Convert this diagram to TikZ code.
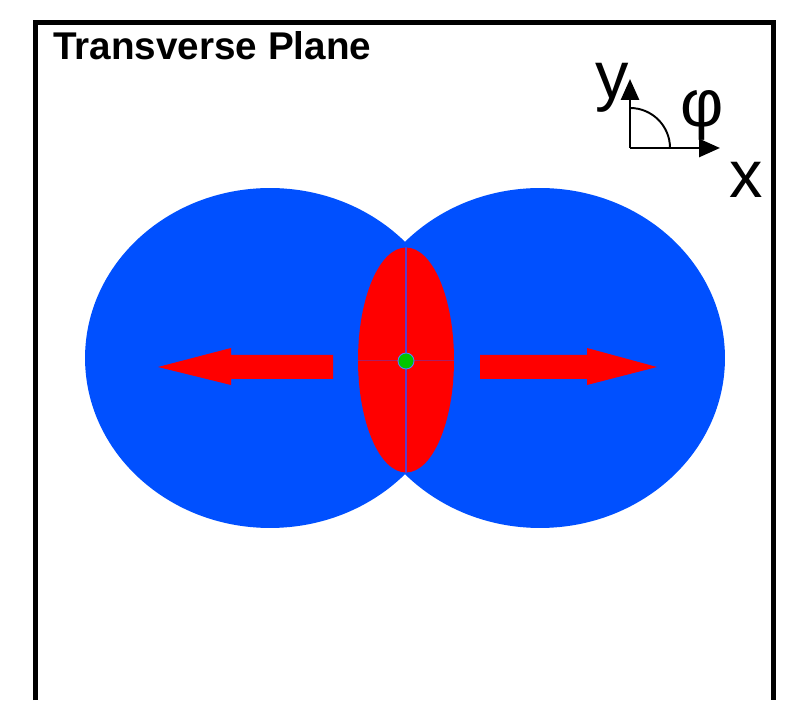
\documentclass[tikz,border=0pt]{standalone}
\usepackage{fontspec}
\setmainfont{Liberation Sans}
\usepackage{tikz}
\usepackage{xcolor}
\usetikzlibrary{arrows.meta,positioning,shapes.geometric}
\definecolor{PlaneBlue}{HTML}{0050FF}
\definecolor{PlaneRed}{HTML}{FF0000}
\definecolor{PlaneGreen}{HTML}{00C400}
\definecolor{PlaneLine}{HTML}{5A3CC8}
\tikzset{
    % Outer frame
    framebox/.style={
        draw=black,
        line width=0.1cm
    },
    % Transverse profile (blue blobs)
    blobnode/.style={
        ellipse,
        fill=PlaneBlue,
        inner sep=0pt,
        minimum width=7.4cm,
        minimum height=6.8cm
    },
    % Overlap region
    overlapnode/.style={
        ellipse,
        fill=PlaneRed,
        inner sep=0pt,
        minimum width=1.92cm,
        minimum height=4.5cm
    },
    % Centre dot
    dotnode/.style={
        circle,
        fill=PlaneGreen,
        draw=PlaneBlue!70,
        line width=0.5pt,
        inner sep=0pt,
        minimum size=0.32cm
    },
    % Flow arrow (filled polygon)
    flowarrow/.style={
        fill=PlaneRed
    },
    % Guide lines through the overlap
    guideline/.style={
        draw=PlaneLine,
        line width=0.9pt
    },
    % Coordinate axes
    axisarrow/.style={
        -{Triangle[length=0.42cm,width=0.36cm]},
        line width=1.6pt,
        draw=black
    },
    % Labels
    titlenode/.style={
        font=\fontsize{22}{26}\selectfont\bfseries,
        inner sep=0pt
    },
    axislabel/.style={
        font=\fontsize{38}{44}\selectfont,
        inner sep=0pt
    }
}

\begin{document}
\begin{tikzpicture}[x=0.02cm, y=0.02cm]
        \useasboundingbox (0,0) rectangle (794,700);

        % Frame and title
        \draw[framebox] (35,0) -- (35,677) -- (773,677) -- (773,0);
        \node[titlenode, anchor=base west] (title) at (53,640) {Transverse Plane};

        % Blobs
        \node[blobnode] (leftblob) at (270,342) {};
        \node[blobnode] (rightblob) at (540,342) {};

        % Overlap region
        \node[overlapnode] (overlap) at (406,340) {};
        \draw[guideline] (overlap.north) -- (overlap.south);
        \draw[guideline, line width=0.4pt, draw opacity=0.5] (overlap.west) -- (overlap.east);
        \node[dotnode] (centre) at (406,339) {};

        % Flow arrows
        \fill[flowarrow] (333,345) -- (231,345) -- (231,352) -- (158,333)
            -- (231,315) -- (231,321) -- (333,321) -- cycle;
        \fill[flowarrow] (480,345) -- (587,345) -- (587,352) -- (657,333)
            -- (587,315) -- (587,321) -- (480,321) -- cycle;

        % Axes
        \coordinate (origin) at (630,552);
        \coordinate (ytip) at (630,621);
        \coordinate (xtip) at (720,552);
        \draw[axisarrow] (origin) -- (ytip);
        \draw[axisarrow] (origin) -- (xtip);
        \draw[line width=1.1pt] (origin) ++(40,0) arc[start angle=0, end angle=90, radius=40];
        \node[axislabel, anchor=base] (ylabel) at (612,601) {y};
        \node[axislabel, anchor=base] (philabel) at (702,573) {φ};
        \node[axislabel, anchor=base] (xlabel) at (746,502) {x};
    \end{tikzpicture}
\end{document}
